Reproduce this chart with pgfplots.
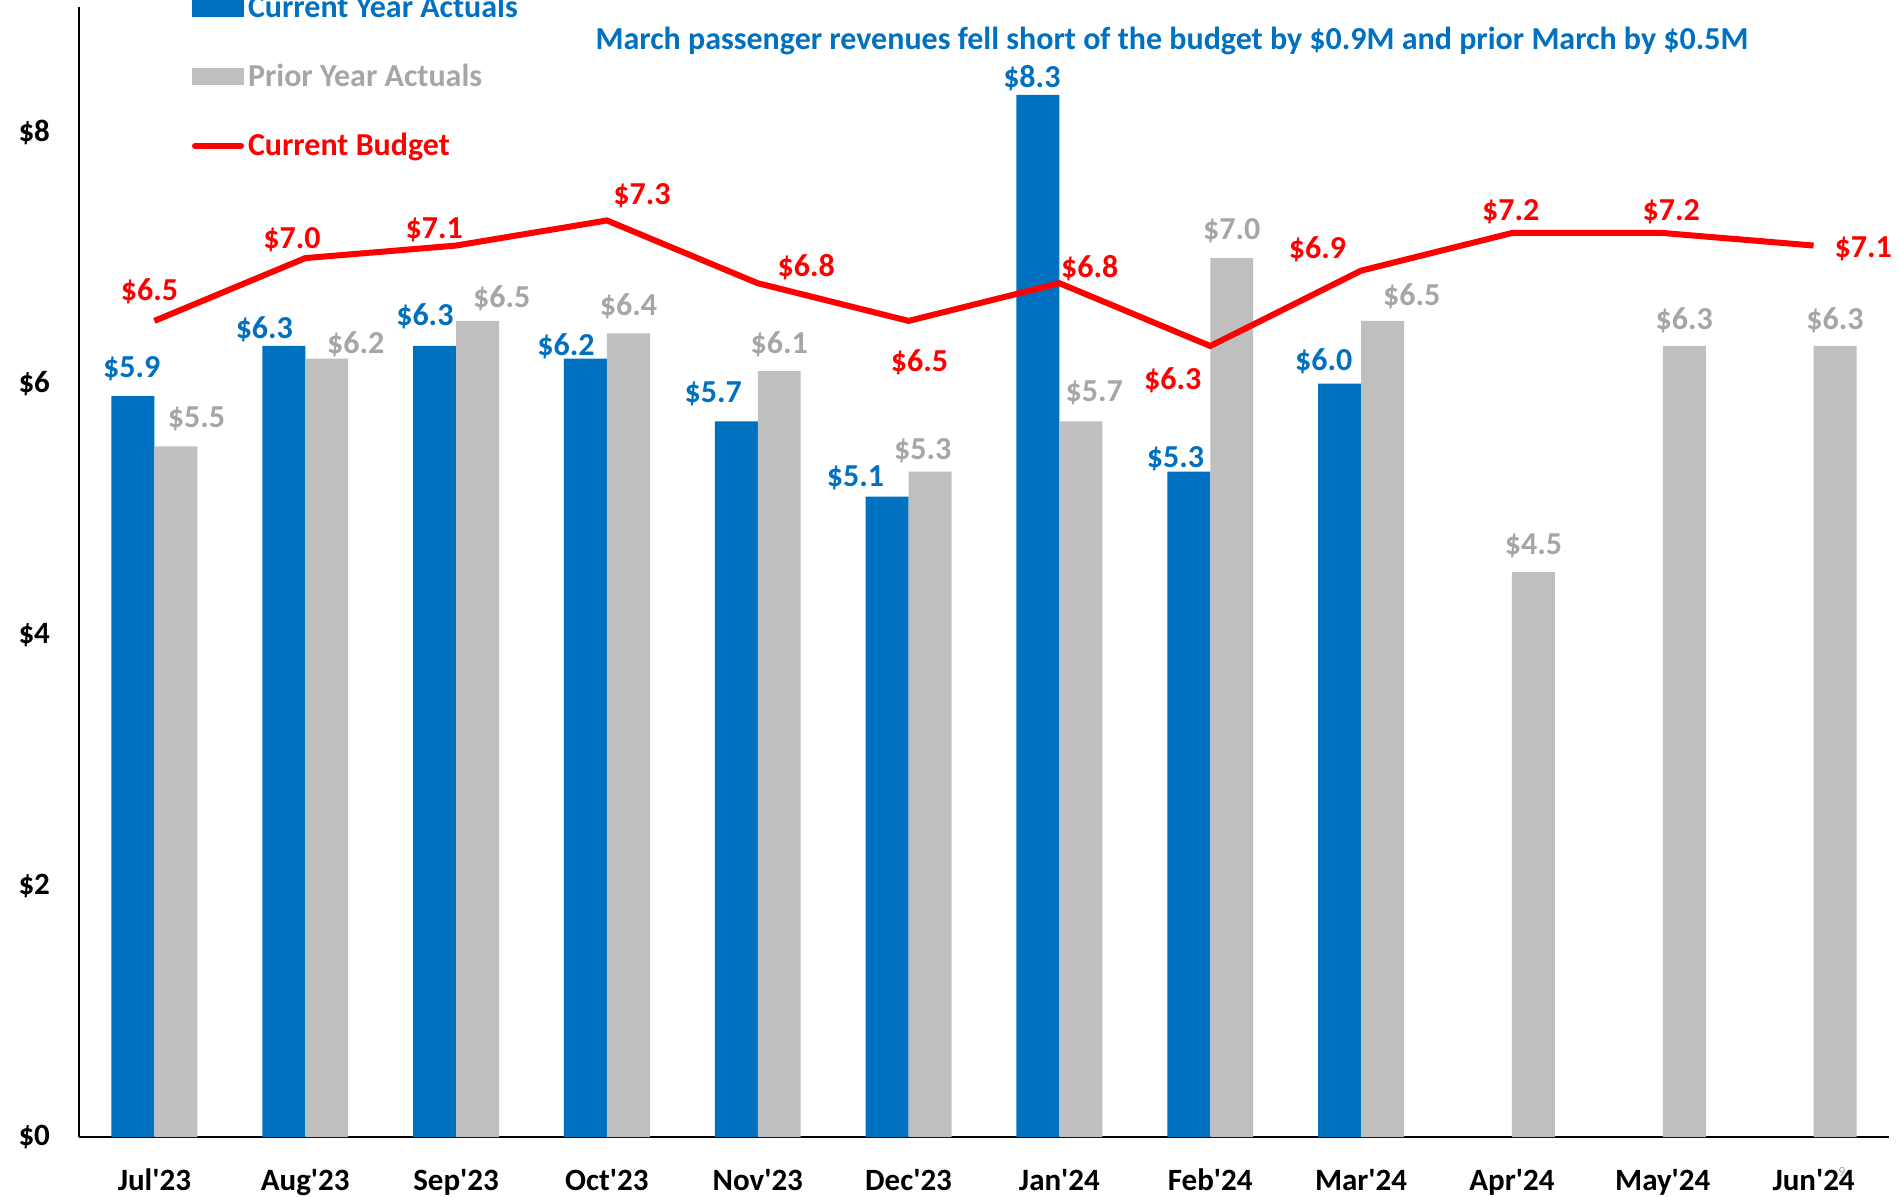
\documentclass[border=0pt]{standalone}
\usepackage{pgfplots}
\pgfplotsset{compat=1.18}
\usepackage{pgfplotstable}
\usepackage{fontspec}
\setmainfont{Carlito}
\definecolor{cyblue}{HTML}{0070C0}
\definecolor{pybar}{HTML}{BFBFBF}
\definecolor{pytext}{HTML}{A6A6A6}
\definecolor{bred}{HTML}{FF0000}
\newcommand\ap{\textquotesingle}
\tikzset{lbl/.style={anchor=center, inner sep=0pt,
    xshift=\dx*0.606pt, yshift=\dy*0.606pt-1.5pt,
    font=\fontsize{16}{19}\selectfont\bfseries}}

% current year actuals: x, value, label offset (dx, dy)
\pgfplotstableread{
x y dx dy
0 5.9 -1 25
1 6.3 -16 16
2 6.3 -8 27
3 6.2 -16 13
4 5.7 -19 25
5 5.1 -26 18
6 8.3 -5 16.5
7 5.3 -11 13
8 6.0 -13 21
}\cytab

% prior year actuals
\pgfplotstableread{
x y dx dy
0 5.5 17 25
1 6.2 24 14
2 6.5 20 21
3 6.4 0 25
4 6.1 0 25
5 5.3 -6 20
6 5.7 11 26
7 7.0 0 25
8 6.5 24 23
9 4.5 0 24
10 6.3 0 24
11 6.3 0 24
}\pytab

% current budget
\pgfplotstableread{
x y dx dy
0 6.5 -4 26.5
1 7.0 -11 17.5
2 7.1 -18 15.5
3 7.3 29 22.5
4 6.8 40 16
5 6.5 9 -32
6 6.8 25 15
7 6.3 -31 -26
8 6.9 -36 20
9 7.2 -1 20
10 7.2 7 20
11 7.1 41 0
}\butab

\begin{document}
\begin{tikzpicture}
\path[use as bounding box] (-39.5pt,-29.5pt) rectangle (911pt,568.5pt);
\begin{axis}[
  at={(0,0)}, anchor=south west,
  scale only axis, width=905pt, height=565pt,
  xmin=-0.5, xmax=11.5, ymin=0, ymax=9,
  clip=false,
  axis lines*=left,
  axis line style={black, line width=0.8pt, -},
  xtick={0,...,11},
  xticklabels={Jul\ap23,Aug\ap23,Sep\ap23,Oct\ap23,Nov\ap23,Dec\ap23,Jan\ap24,Feb\ap24,Mar\ap24,Apr\ap24,May\ap24,Jun\ap24},
  ytick={0,2,4,6,8},
  yticklabels={\$0,\$2,\$4,\$6,\$8},
  major tick length=0pt,
  tick label style={font=\fontsize{15.5}{18}\selectfont\bfseries, text=black},
  xticklabel style={yshift=-12.5pt},
  yticklabel style={xshift=-11pt},
  /pgf/number format/assume math mode=true,
  legend cell align=left,
  legend style={at={(axis description cs:0,1)}, anchor=north west,
    xshift=56.5pt, yshift=8pt, draw=none, fill=none,
    inner sep=0pt, outer sep=0pt, row sep=17.75pt,
    font=\fontsize{16}{19}\selectfont\bfseries},
]
\addplot[ybar, bar width=0.285, bar shift=-0.1425, fill=cyblue, draw=none,
  visualization depends on={\thisrow{dx} \as \dx},
  visualization depends on={\thisrow{dy} \as \dy},
  point meta=y,
  nodes near coords={\$\pgfmathprintnumber[fixed,fixed zerofill,precision=1]{\pgfplotspointmeta}},
  nodes near coords style={lbl, text=cyblue, xshift=-10.75pt},
  legend image code/.code={\fill[cyblue] (0pt,-4.4pt) rectangle (26pt,4.4pt);},
] table[x=x,y=y] {\cytab};
\addlegendentry{\textcolor{cyblue}{Current Year Actuals}}

\addplot[ybar, bar width=0.285, bar shift=0.1425, fill=pybar, draw=none,
  visualization depends on={\thisrow{dx} \as \dx},
  visualization depends on={\thisrow{dy} \as \dy},
  point meta=y,
  nodes near coords={\$\pgfmathprintnumber[fixed,fixed zerofill,precision=1]{\pgfplotspointmeta}},
  nodes near coords style={lbl, text=pytext, xshift=10.75pt},
  legend image code/.code={\fill[pybar] (0pt,-4.4pt) rectangle (26pt,4.4pt);},
] table[x=x,y=y] {\pytab};
\addlegendentry{\textcolor{pytext}{Prior Year Actuals}}

\addplot[bred, line width=3pt, mark=none,
  visualization depends on={\thisrow{dx} \as \dx},
  visualization depends on={\thisrow{dy} \as \dy},
  point meta=y,
  nodes near coords={\$\pgfmathprintnumber[fixed,fixed zerofill,precision=1]{\pgfplotspointmeta}},
  nodes near coords style={lbl, text=bred},
  legend image code/.code={\draw[bred, line width=3pt, line cap=round] (1.5pt,0pt) -- (24.5pt,0pt);},
] table[x=x,y=y] {\butab};
\addlegendentry{\textcolor{bred}{Current Budget}}

\node[text=cyblue, font=\fontsize{16}{19}\selectfont\bfseries, anchor=center, yshift=-16.75pt]
  at (axis description cs:0.6039,1) {March passenger revenues fell short of the budget by \$0.9M and prior March by \$0.5M};
\node[text=pytext, font=\fontsize{7}{8}\selectfont, anchor=center, yshift=-17.5pt]
  at (axis description cs:0.974,0) {9};
\end{axis}
\end{tikzpicture}
\end{document}
